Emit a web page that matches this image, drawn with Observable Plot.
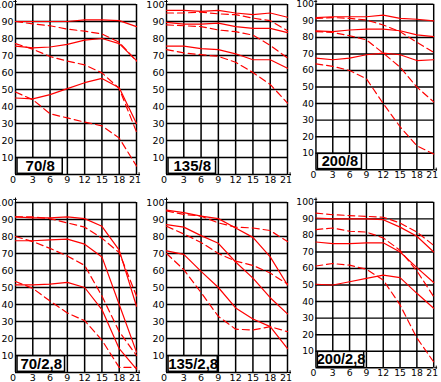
<!DOCTYPE html>
<html><head><meta charset="utf-8">
<script src="https://cdn.jsdelivr.net/npm/d3@7"></script>
<script src="https://cdn.jsdelivr.net/npm/@observablehq/plot@0.6"></script>
<style>
html,body{margin:0;padding:0;background:#fff;overflow:hidden;}
#wrap{position:relative;width:441px;height:382px;background:#fff;}
#wrap > div{position:absolute;}
svg{overflow:visible;}
</style></head>
<body><div id="wrap"></div>
<script>
// field position (mm) and contrast (%) tick values
const xTicks = [0, 3, 6, 9, 12, 15, 18, 21];
const yTicks = [0, 10, 20, 30, 40, 50, 60, 70, 80, 90, 100];
const titles = ["70/8", "135/8", "200/8", "70/2,8", "135/2,8", "200/2,8"];

// each: three solid (sagittal) curves then three dashed (meridional), values at xTicks
const solid_70_8 = [[90,90,90,90,91,91,90.5,87],[75.5,74.5,75,76.5,79,80,77,67],[45,44.5,47,50.5,54,56.5,51,30]];
const dashed_70_8 = [[90,88.6,87.5,85.5,84.3,82.7,77.8,66.7],[77,73.7,69.4,66.7,64.5,59.8,50.6,25],[48.5,44,35.7,33.3,30.8,28.6,21.4,5]];
const solid_135_8 = [[96.5,96.5,96,96.5,95,94,95,92.5],[89.5,88.5,88.5,89,87,86,86,83.5],[75.5,75.5,74,73.5,71,67.5,67.5,62.5]];
const dashed_135_8 = [[95,95,95.5,94.5,94,92,90.5,84.5],[88,87.5,87,85,84,82,76,68.5],[73.5,71.5,70.5,69.5,66,60,53,42]];
const solid_200_8 = [[92,92.5,92.5,92.5,93.5,91.5,91,90],[84,83.5,84.5,85,85,84,81.5,80.5],[67.5,66.5,67.5,69.5,70.5,69.5,66,66.5]];
const dashed_200_8 = [[91.5,92,91.5,90.5,87.5,83.5,77,71],[83.5,83,81,78.5,70.5,62,50,41],[64,62.5,60,55,40,26,14.5,9.5]];
const solid_70_28 = [[91.5,91,91,91.5,90.5,86,72,39],[77.5,77.5,78,78.5,75.5,68,40,12],[51.5,51.5,52,53,50,37,14,2]];
const dashed_70_28 = [[91.5,91.5,90.5,88,85.5,79,70.5,45],[80,77,73,68.5,63,45,24,10],[53.5,49.5,42,35,30.5,19,3,3]];
const solid_135_28 = [[95.5,94,92,90.5,85,79.5,68,51.5],[87,85.5,80.5,76,65,55.5,44,34.5],[71.5,69.5,59.5,50,38,31.5,27,14]];
const dashed_135_28 = [[95,93,92,88,85.5,85,83.5,77],[86,81.5,76.5,70,65.5,63,58.5,52],[70,60.5,47,33,25.5,25,27,24]];
const solid_200_28 = [[90.5,90,90,90,89.5,85,79.5,70],[76,75,75,75.5,75.5,70,60.5,51.5],[50.5,50,52,54,56,54.5,45,36]];
const dashed_200_28 = [[93.5,92.5,92,91.5,91,87.5,82,74],[83.5,84.5,82.5,82,78.5,71,58.5,43],[61.5,63,62,59.5,53,38,18,3.5]];

const panels = [
  {t: titles[0], s: solid_70_8, d: dashed_70_8, left: 15, top: 4, box: 8.2},
  {t: titles[1], s: solid_135_8, d: dashed_135_8, left: 166, top: 4, box: 8.6},
  {t: titles[2], s: solid_200_8, d: dashed_200_8, left: 316, top: 4, box: 8.2},
  {t: titles[3], s: solid_70_28, d: dashed_70_28, left: 15, top: 202, box: 8.6},
  {t: titles[4], s: solid_135_28, d: dashed_135_28, left: 166, top: 202, box: 8.9},
  {t: titles[5], s: solid_200_28, d: dashed_200_28, left: 316, top: 202, box: 8.6}
];

const PW = 121, PH = 170, ML = 20, MR = 8, MT = 6, MB = 12;
const FONT = "'DejaVu Sans', sans-serif";

function rowsOf(series) {
  const rows = [];
  series.forEach((arr, i) => arr.forEach((v, j) => rows.push({x: xTicks[j], y: v, k: i})));
  return rows;
}

const wrap = document.getElementById("wrap");
for (const p of panels) {
  const labelOpts = {fontSize: 9.5, fill: "#000", lineAnchor: "middle"};
  const svg = Plot.plot({
    width: ML + PW + MR, height: MT + PH + MB,
    marginLeft: ML, marginRight: MR, marginTop: MT, marginBottom: MB,
    x: {domain: [0, 21], axis: null},
    y: {domain: [0, 100], axis: null},
    style: {background: "transparent", fontFamily: FONT, overflow: "visible"},
    marks: [
      Plot.ruleX(xTicks, {x: d => d, stroke: "#000", strokeWidth: 1.5}),
      Plot.ruleY(yTicks, {y: d => d, stroke: "#000", strokeWidth: 1.5}),
      Plot.ruleX([0], {x: d => d, y1: 100, y2: 102.6, stroke: "#000", strokeWidth: 1}),
      Plot.ruleY([101.8], {y: d => d, x1: -0.3, x2: 0.3, stroke: "#000", strokeWidth: 1}),
      Plot.ruleY([0], {y: d => d, x1: 21, x2: 21.7, stroke: "#000", strokeWidth: 1}),
      Plot.ruleX([21.45], {x: d => d, y1: -1, y2: 1, stroke: "#000", strokeWidth: 1}),
      Plot.rect([p.t], {x1: 0.35, x2: p.box, y1: 0.4, y2: 9.6, fill: "#fff", stroke: "#000", strokeWidth: 1.5}),
      Plot.text([p.t], {x: (0.35 + p.box) / 2, y: 5, text: d => d, fontFamily: "'Liberation Sans', Arial, sans-serif", fontWeight: "bold", fontSize: 15, fill: "#000", textAnchor: "middle", lineAnchor: "middle"}),
      Plot.line(rowsOf(p.s), {x: "x", y: "y", z: "k", stroke: "#ff0000", strokeWidth: 1.2}),
      Plot.line(rowsOf(p.d), {x: "x", y: "y", z: "k", stroke: "#ff0000", strokeWidth: 1.2, strokeDasharray: "7,4"}),
      Plot.text(yTicks.filter(d => d > 0), {x: 0, y: d => d, text: d => String(d), textAnchor: "end", dx: -2, ...labelOpts}),
      Plot.text(xTicks.filter(d => d > 0 && d < 21), {x: d => d, y: 0, text: d => String(d), dy: 5.5, ...labelOpts}),
      Plot.text([0], {x: d => d, y: 0, text: d => String(d), dy: 5.5, dx: -2.5, ...labelOpts}),
      Plot.text([21], {x: d => d, y: 0, text: d => String(d), dy: 5.5, dx: -1.5, ...labelOpts})
    ]
  });
  const holder = document.createElement("div");
  holder.style.left = (p.left - ML) + "px";
  holder.style.top = (p.top - MT) + "px";
  holder.appendChild(svg);
  wrap.appendChild(holder);
}
</script>
</body></html>
